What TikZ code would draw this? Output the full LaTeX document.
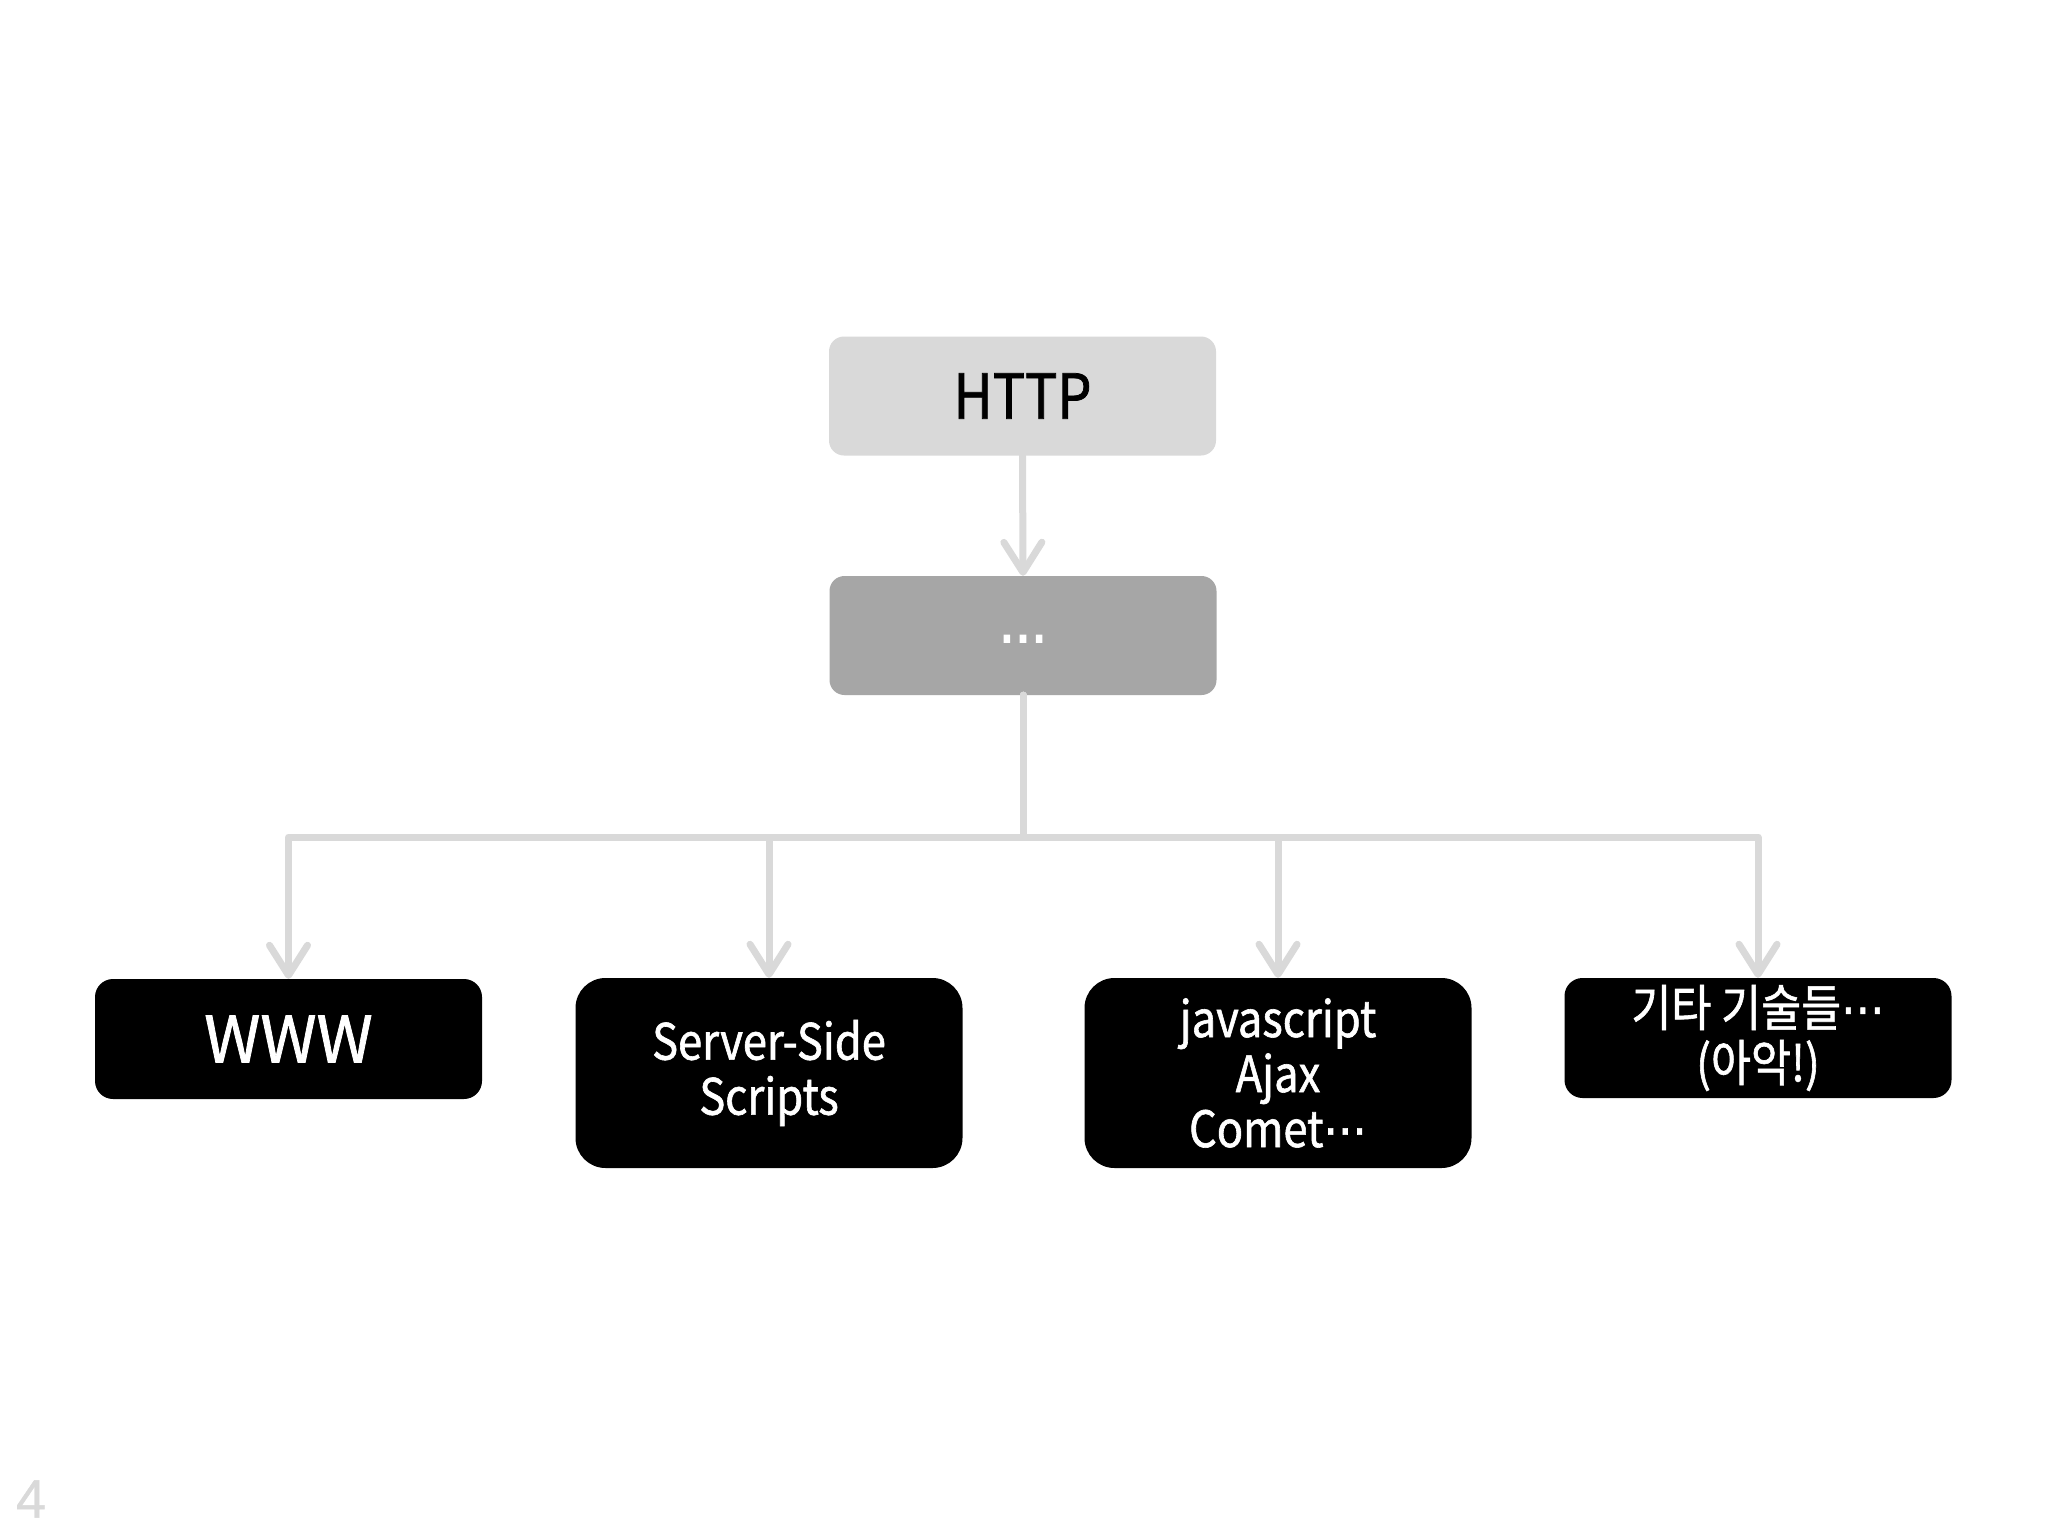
\documentclass[tikz,border=0pt]{standalone}
\usepackage{fontspec}
\setmainfont{Noto Sans CJK KR}[FakeStretch=0.87, FakeBold=1.2]
\newfontfamily\widefont{Noto Sans CJK KR}[FakeBold=1.2]
\newfontfamily\numfont{Liberation Sans}[FakeBold=0.8]
\newfontfamily\symfont{DejaVu Sans}[FakeStretch=0.87, FakeBold=1.2]
\newfontfamily\bigdotfont{DejaVu Sans}[FakeStretch=0.9, FakeBold=3]
\newcommand{\mydots}{{\symfont ⋯}}
\usetikzlibrary{arrows.meta}
\definecolor{lgray}{HTML}{D9D9D9}
\definecolor{mgray}{HTML}{A6A6A6}
\begin{document}
\begin{tikzpicture}[x=1pt,y=-1pt,
  box/.style={rectangle, rounded corners=15pt, minimum width=387pt, inner sep=0pt, align=center},
  topbox/.style={box, fill=lgray, minimum height=119pt, font=\fontsize{62}{68}\selectfont},
  midbox/.style={box, fill=mgray, minimum height=119pt, text=white, text height=40pt, text depth=0pt, font=\bigdotfont\fontsize{54}{55}\selectfont},
  leaf/.style={box, fill=black, text=white, minimum height=120pt, rounded corners=18pt, font=\fontsize{50}{55}\selectfont},
  tallleaf/.style={leaf, minimum height=190pt, rounded corners=30pt},
  conn/.style={draw=lgray, line width=7pt, line cap=round, line join=round,
    -{Straight Barb[length=30pt,width=38pt,line cap=round,line join=round]}},
  pagenum/.style={text=lgray, font=\numfont\fontsize{54}{54}\selectfont, inner sep=0pt}]
\useasboundingbox (0,0) rectangle (2048,1536);
\fill[white] (0,0) rectangle (2048,1536);
\node[topbox] (http) at (1022.5,396) {HTTP};
\node[midbox] (dots) at (1023,635.5) {⋯};
\coordinate (bus) at (1023,837);
\node[leaf, font=\widefont\fontsize{64}{70}\selectfont] (www) at (288.5,1039) {WWW};
\node[tallleaf] (sss) at (769,1073) {Server-Side\\Scripts};
\node[tallleaf] (js) at (1278,1073) {javascript\\Ajax\\Comet\mydots};
\node[leaf] (etc) at (1758,1038) {기타 기술들\mydots\\(아악!)};
\node[pagenum] (pg) at (31,1499) {4};
\draw[conn] (http.south) -- (dots.north);
\draw[conn] (dots.south) -- (dots.south |- bus) -| (www.north);
\draw[conn] (dots.south) -- (dots.south |- bus) -| (sss.north);
\draw[conn] (dots.south) -- (dots.south |- bus) -| (js.north);
\draw[conn] (dots.south) -- (dots.south |- bus) -| (etc.north);
\end{tikzpicture}
\end{document}
